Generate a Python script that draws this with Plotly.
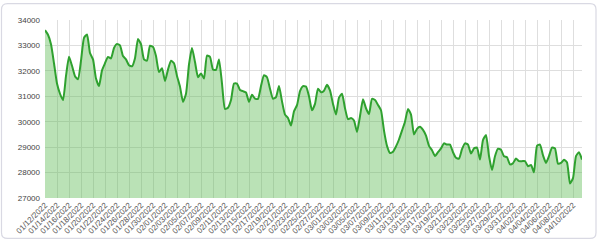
import pandas as pd
import plotly.graph_objects as go

# ---- data, one point every 12 hours from 01/12/2022 ----
start_date = "2022-01-12"
values = [
    33600, 33420, 33050, 32300, 31500, 31100, 30850, 31800, 32550, 32200,
    31790, 31670, 32400, 33300, 33430, 32700, 32450, 31700, 31400, 32020,
    32300, 32550, 32490, 32900, 33060, 33000, 32580, 32450, 32220, 32180,
    32500, 33250, 33050, 32450, 32400, 32990, 32940, 32580, 31950, 32100,
    31600, 32050, 32400, 32300, 31800, 31380, 30780, 31100, 32250, 32900,
    32350, 31750, 31900, 31700, 32600, 32550, 32050, 32040, 32450, 31500,
    30500, 30550, 30850, 31500, 31500, 31250, 31200, 31150, 30780, 31060,
    30910, 30900, 31400, 31830, 31750, 31300, 30900, 30970, 31400, 30800,
    30280, 30150, 29850, 30410, 30650, 31200, 31400, 31380, 31000, 30450,
    30700, 31300, 31160, 31220, 31450, 31230, 30700, 30280, 30950, 31100,
    30530, 30100, 30150, 30050, 29600, 30220, 30880, 30530, 30300, 30900,
    30850, 30660, 30450, 29650, 29050, 28770, 28820, 29030, 29300, 29650,
    30000, 30500, 30280, 29500, 29720, 29800, 29680, 29450, 29050, 28880,
    28650, 28800, 28950, 29150, 29100, 29100, 28800, 28580, 28550, 28920,
    29150, 29100, 28750, 28950, 28980, 28510, 29280, 29480, 28650, 28100,
    28640, 28940, 28900, 28640, 28600, 28320, 28370, 28550, 28450, 28450,
    28450, 28250, 28300, 28010, 29050, 29100, 28680, 28380, 28650, 28980,
    28950, 28350, 28380, 28500, 28400, 27570, 27780, 28650, 28800, 28510,
]
dates = pd.date_range(start_date, periods=len(values), freq="12h")
y_ticks = [27000, 28000, 29000, 30000, 31000, 32000, 33000, 34000]

# ---- layout geometry ----
W, H = 600, 248
ML, MR, MT, MB = 45, 18, 20, 43
PW, PH = W - ML - MR, H - MT - MB


def px(x):
    return (x - ML) / PW


def py(y):
    return (H - MB - y) / PH


def rounded_rect(x0, y0, x1, y1, r):
    return (
        f"M{px(x0 + r)},{py(y0)} L{px(x1 - r)},{py(y0)} "
        f"Q{px(x1)},{py(y0)} {px(x1)},{py(y0 + r)} "
        f"L{px(x1)},{py(y1 - r)} Q{px(x1)},{py(y1)} {px(x1 - r)},{py(y1)} "
        f"L{px(x0 + r)},{py(y1)} Q{px(x0)},{py(y1)} {px(x0)},{py(y1 - r)} "
        f"L{px(x0)},{py(y0 + r)} Q{px(x0)},{py(y0)} {px(x0 + r)},{py(y0)} Z"
    )


fig = go.Figure()
fig.add_trace(
    go.Scatter(
        x=dates,
        y=values,
        mode="lines",
        line=dict(color="#2fa12f", width=2, shape="spline", smoothing=0.5),
        fill="tozeroy",
        fillcolor="rgba(90,185,80,0.42)",
        hoverinfo="skip",
    )
)

fig.update_layout(
    width=W,
    height=H,
    margin=dict(l=ML, r=MR, t=MT, b=MB),
    paper_bgcolor="white",
    plot_bgcolor="white",
    showlegend=False,
    font=dict(family="Liberation Sans, Arial, sans-serif", size=8, color="#555555"),
    shapes=[
        dict(
            type="path",
            xref="paper",
            yref="paper",
            path=rounded_rect(1.5, 3, 596, 247, 6),
            line=dict(color="#d9d9e3", width=1.2),
            fillcolor="rgba(0,0,0,0)",
            layer="below",
        )
    ],
)

fig.update_xaxes(
    type="date",
    range=[dates[0], dates[-1]],
    tick0=start_date,
    dtick=2 * 86400000,
    tickformat="%m/%d/%Y",
    tickangle=-45,
    tickfont=dict(size=8, color="#555555"),
    showgrid=True,
    gridcolor="#dedede",
    gridwidth=1,
    zeroline=False,
    showline=False,
    ticks="",
)
fig.update_yaxes(
    range=[27000, 34000],
    tickvals=y_ticks,
    ticktext=[str(v) for v in y_ticks],
    tickfont=dict(size=8, color="#444444"),
    showgrid=True,
    gridcolor="#dedede",
    gridwidth=1,
    zeroline=False,
    showline=False,
    ticks="",
    ticklabelstandoff=4,
)

fig.write_html("out.html")
